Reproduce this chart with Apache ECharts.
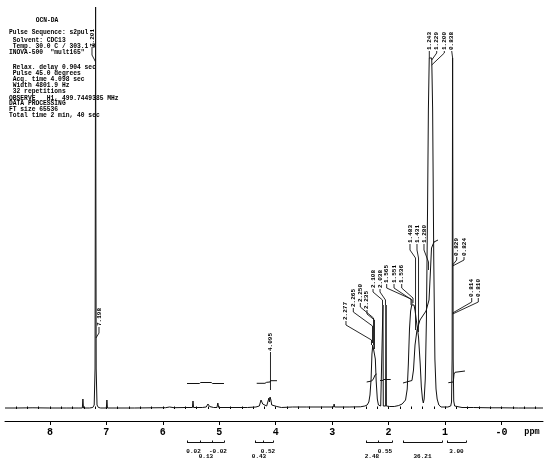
<!DOCTYPE html>
<html><head><meta charset="utf-8">
<script src="https://cdn.jsdelivr.net/npm/echarts@6/dist/echarts.min.js"></script>
<style>html,body{margin:0;padding:0;background:#fff}#c{width:550px;height:463px}</style>
</head><body><div id="c"></div>
<script>
const MONO = "'Liberation Mono','DejaVu Sans Mono',monospace";

// ---------- data ----------
const tickValues = [8, 7, 6, 5, 4, 3, 2, 1, 0];
const tickLabels = ['8', '7', '6', '5', '4', '3', '2', '1', '-0'];

// spectrum: [ppm, intensity]
const spectrum = [
  [8.795,1],[8.6,1],[8.3,1.2],[8.0,1],[7.7,1],[7.5,1],[7.425,1],[7.415,10],[7.405,1],[7.3,1],
  [7.24,1.5],[7.215,4],[7.2,40],[7.19,402],[7.18,40],[7.165,4],[7.14,1.5],[7.1,1],[7.0,1],[6.99,9],
  [6.98,1],[6.8,1],[6.5,1],[6.2,1.2],[5.95,1.3],[5.88,2],[5.8,1.3],[5.6,1.5],[5.475,1.5],[5.465,8],
  [5.455,1.5],[5.3,1.5],[5.23,2],[5.2,5],[5.17,2.5],[5.1,1.5],[5.04,1.5],[5.025,6],[5.01,1.5],[4.8,1.5],
  [4.5,1.5],[4.35,2],[4.29,3],[4.26,9],[4.245,10],[4.23,5],[4.2,3],[4.16,3],[4.135,5],[4.12,11],
  [4.11,7],[4.1,12],[4.085,9],[4.07,4],[4.055,5],[4.04,2],[3.98,2.5],[3.9,1.5],[3.7,2],[3.46,2],
  [3.45,4],[3.44,2],[3.2,2],[2.975,2],[2.965,5],[2.955,2],[2.7,2],[2.5,2.2],[2.42,3],[2.38,4],
  [2.35,7],[2.33,14],[2.31,30],[2.295,55],[2.28,64],[2.265,66],[2.25,62],[2.235,50],[2.22,28],[2.2,10],
  [2.18,4],[2.14,3],[2.106,3],[2.1,104],[2.094,3],[2.052,3],[2.046,104],[2.04,3],[1.98,2.5],[1.9,2.5],
  [1.82,3.5],[1.76,5],[1.7,9],[1.67,20],[1.65,45],[1.63,80],[1.61,98],[1.59,104],[1.57,106],[1.55,104],
  [1.53,98],[1.5,85],[1.47,72],[1.44,45],[1.42,22],[1.4,10],[1.385,6],[1.37,10],[1.35,30],[1.33,90],
  [1.31,200],[1.295,300],[1.28,351],[1.26,351],[1.236,351],[1.22,300],[1.2,150],[1.18,50],[1.16,20],[1.14,10],
  [1.11,4],[1.07,2],[1.0,2],[0.95,2],[0.9,3],[0.885,7],[0.875,50],[0.866,351],[0.856,50],[0.846,8],
  [0.83,3],[0.8,2],[0.7,1.5],[0.5,1.5],[0.2,1.2],[0.0,1.2],[-0.3,1],[-0.735,1]
];

const peakLabels = ['7.201','7.198','4.095','2.277','2.265','2.250','2.235','2.108','2.038',
  '1.565','1.551','1.536','1.483','1.431','1.280','1.243','1.229','1.200','0.838',
  '0.829','0.824','0.814','0.810'];

const integralRegions = [[5.571,5.34],[5.34,5.13],[5.13,4.916],[4.367,4.225],[4.225,4.048],
  [2.40,2.19],[2.19,1.94],[1.745,1.054],[0.965,0.629]];
const integralValues = ['0.02','0.13','-0.02','0.43','0.52','2.48','0.55','36.21','3.00'];

// integral traces [ppm, intensity]
const integralCurves = [
  [[5.571,25.5],[5.35,25.5],[5.33,26.5],[5.14,26.5],[5.12,25.5],[4.916,25.5]],
  [[4.336,25.7],[4.19,25.7],[4.16,26.7],[4.10,27],[4.09,28.3],[3.977,28.3]],
  [[2.388,27],[2.30,28],[2.27,30],[2.24,34],[2.212,35]],
  [[2.152,28.5],[2.10,28.5],[2.09,29.5],[1.963,29.5]],
  [[1.745,26],[1.586,28.5],[1.559,39],[1.532,64],[1.497,79],[1.444,89],[1.337,98],[1.284,109],[1.258,139],[1.240,161],[1.196,167],[1.125,169]],
  [[0.942,26.3],[0.854,27],[0.841,35],[0.824,36.7],[0.647,38]]
];

const paramLines = ['Pulse Sequence: s2pul',' Solvent: CDC13',' Temp. 30.0 C / 303.1 K','INOVA-500  "mult165"',
  ' Relax. delay 0.904 sec',' Pulse 45.0 degrees',' Acq. time 4.098 sec',' Width 4801.9 Hz',' 32 repetitions',
  'OBSERVE   H1, 499.7449385 MHz','DATA PROCESSING','FT size 65536','Total time 2 min, 40 sec'];
const titleText = 'OCN-DA';

// ---------- layout (annotation placement, in axis units) ----------
const paramY = [32.3,40.7,46.3,52.3,67.7,73.3,79.7,85.3,91,98,103.7,109.3,115.7];
const labelLayout = [
  {at:[7.254,362], leader:[[7.254,362],[7.254,354],[7.189,347]]},
  {at:[7.130,83],  leader:[[7.130,82],[7.130,76],[7.184,71]]},
  {at:[4.092,58],  leader:[[4.092,57],[4.092,19]]},
  {at:[2.755,89],  leader:[[2.755,88],[2.755,84],[2.303,69],[2.303,64]]},
  {at:[2.625,102], leader:[[2.625,101],[2.625,97],[2.285,83],[2.285,66]]},
  {at:[2.501,107], leader:[[2.501,106],[2.501,102],[2.267,91],[2.267,64]]},
  {at:[2.383,100], leader:[[2.383,99],[2.383,95],[2.250,89],[2.250,60]]},
  {at:[2.276,121], leader:[[2.276,120],[2.276,117],[2.108,109],[2.108,104]]},
  {at:[2.152,121], leader:[[2.152,120],[2.152,117],[2.055,109],[2.055,104]]},
  {at:[2.034,126], leader:[[2.034,125],[2.034,121],[1.603,110],[1.603,104]]},
  {at:[1.904,126], leader:[[1.904,125],[1.904,121],[1.586,109],[1.586,104]]},
  {at:[1.768,126], leader:[[1.768,125],[1.768,121],[1.568,111],[1.568,106]]},
  {at:[1.621,166], leader:[[1.621,165],[1.621,159],[1.523,151],[1.523,79]]},
  {at:[1.497,166], leader:[[1.497,165],[1.497,159],[1.470,151],[1.470,77]]},
  {at:[1.373,166], leader:[[1.373,165],[1.373,159],[1.293,147],[1.293,139]]},
  {at:[1.279,359], leader:[[1.279,358],[1.279,351]]},
  {at:[1.148,359], leader:[[1.148,358],[1.148,356],[1.236,349]]},
  {at:[1.013,359], leader:[[1.013,358],[1.013,356],[1.236,344]]},
  {at:[0.882,359], leader:[[0.882,358],[0.866,351]]},
  {at:[0.794,153], leader:[[0.794,152],[0.794,149],[0.866,144]]},
  {at:[0.664,153], leader:[[0.664,152],[0.664,149],[0.866,143]]},
  {at:[0.528,112], leader:[[0.528,111],[0.528,107],[0.866,96]]},
  {at:[0.411,112], leader:[[0.411,111],[0.411,107],[0.866,95]]}
];

// ---------- derived ----------
const XMIN = -0.735, XMAX = 8.795;
const minorTicks = [];
for (let v = -0.6; v <= 8.7; v += 0.2) minorTicks.push(Math.round(v * 10) / 10);

const bracketLines = [];
let cur = null;
integralRegions.forEach((r) => {
  if (cur && Math.abs(cur.end - r[0]) < 1e-6) { cur.end = r[1]; cur.cuts.push(r[0]); }
  else { cur = {start: r[0], end: r[1], cuts: []}; bracketLines.push(cur); }
});
const BR = 6.7;
const bracketData = [];
bracketLines.forEach(b => {
  bracketData.push({coords: [[b.start, BR], [b.end, BR]]});
  [b.start, b.end].concat(b.cuts).forEach(c => bracketData.push({coords: [[c, BR], [c, BR - 2.2]]}));
});

const axisBase = {type: 'value', min: XMIN, max: XMAX, inverse: true, splitLine: {show: false}};
const TXT_FONT = 'bold 6.3px ' + MONO;

const chart = echarts.init(document.getElementById('c'), null, {renderer: 'canvas'});
const option = {
  animation: false,
  backgroundColor: '#fff',
  grid: [
    {left: 5, right: 7, top: 7, bottom: 54},
    {left: 5, right: 7, top: 436, height: 27}
  ],
  xAxis: [
    Object.assign({}, axisBase, {
      gridIndex: 0, offset: 12,
      axisLine: {show: true, onZero: false, lineStyle: {color: '#000', width: 1}},
      axisTick: {show: true, customValues: tickValues, length: 4, lineStyle: {color: '#000', width: 1}},
      axisLabel: {show: true, customValues: tickValues, margin: 6,
        formatter: v => tickLabels[tickValues.indexOf(Math.round(v))],
        color: '#000', fontFamily: MONO, fontWeight: 'bold', fontSize: 10}
    }),
    Object.assign({}, axisBase, {gridIndex: 1, show: false}),
    Object.assign({}, axisBase, {
      gridIndex: 0, offset: 12,
      axisLine: {show: false},
      axisTick: {show: true, customValues: minorTicks, length: 2.5, lineStyle: {color: '#000', width: 1}},
      axisLabel: {show: false}
    })
  ],
  yAxis: [
    {type: 'value', gridIndex: 0, min: 0, max: 402, show: false, splitLine: {show: false}},
    {type: 'value', gridIndex: 1, min: 0, max: 27, inverse: true, show: false, splitLine: {show: false}}
  ],
  series: [
    {
      type: 'line', xAxisIndex: 0, yAxisIndex: 0, data: spectrum,
      showSymbol: false, symbol: 'none', clip: false, silent: true,
      lineStyle: {color: '#111', width: 1}
    },
    {
      type: 'lines', coordinateSystem: 'cartesian2d', xAxisIndex: 0, yAxisIndex: 0,
      polyline: true, silent: true,
      data: integralCurves.map(c => ({coords: c})),
      lineStyle: {color: '#111', width: 1, opacity: 1}
    },
    {
      type: 'lines', coordinateSystem: 'cartesian2d', xAxisIndex: 0, yAxisIndex: 0,
      polyline: true, silent: true,
      data: labelLayout.map(l => ({coords: l.leader})),
      lineStyle: {color: '#111', width: 0.9, opacity: 1}
    },
    {
      type: 'custom', coordinateSystem: 'cartesian2d', xAxisIndex: 0, yAxisIndex: 0,
      silent: true, clip: false,
      data: labelLayout.map(l => l.at),
      renderItem: (params, api) => {
        const p = api.coord([api.value(0), api.value(1)]);
        return {type: 'text', x: p[0], y: p[1], rotation: Math.PI / 2,
          style: {text: peakLabels[params.dataIndex], font: 'bold 6px ' + MONO, fill: '#000',
            align: 'left', verticalAlign: 'middle', textAlign: 'left', textVerticalAlign: 'middle'}};
      }
    },
    {
      type: 'lines', coordinateSystem: 'cartesian2d', xAxisIndex: 1, yAxisIndex: 1,
      polyline: false, silent: true, data: bracketData,
      lineStyle: {color: '#111', width: 1, opacity: 1}
    },
    {
      type: 'custom', coordinateSystem: 'cartesian2d', xAxisIndex: 1, yAxisIndex: 1,
      silent: true, clip: false,
      data: integralRegions.map((r, i) => [(r[0] + r[1]) / 2, i % 2 === 0 ? 15 : 20]),
      renderItem: (params, api) => {
        const p = api.coord([api.value(0), api.value(1)]);
        return {type: 'text', x: p[0], y: p[1],
          style: {text: integralValues[params.dataIndex], font: 'bold 6px ' + MONO, fill: '#000',
            align: 'center', verticalAlign: 'middle', textAlign: 'center', textVerticalAlign: 'middle'}};
      }
    }
  ],
  graphic: [
    {type: 'text', x: 47, y: 20, scaleY: 1.12, style: {text: titleText, font: TXT_FONT, fill: '#000', align: 'center', verticalAlign: 'middle'}},
    {type: 'text', x: 532, y: 432, style: {text: 'ppm', font: 'bold 8.5px ' + MONO, fill: '#000', align: 'center', verticalAlign: 'middle'}}
  ].concat(paramLines.map((t, i) => ({
    type: 'text', x: 9, y: paramY[i], scaleY: 1.12,
    style: {text: t, font: TXT_FONT, fill: '#000', align: 'left', verticalAlign: 'middle'}
  })))
};
chart.setOption(option);
</script>
</body></html>
